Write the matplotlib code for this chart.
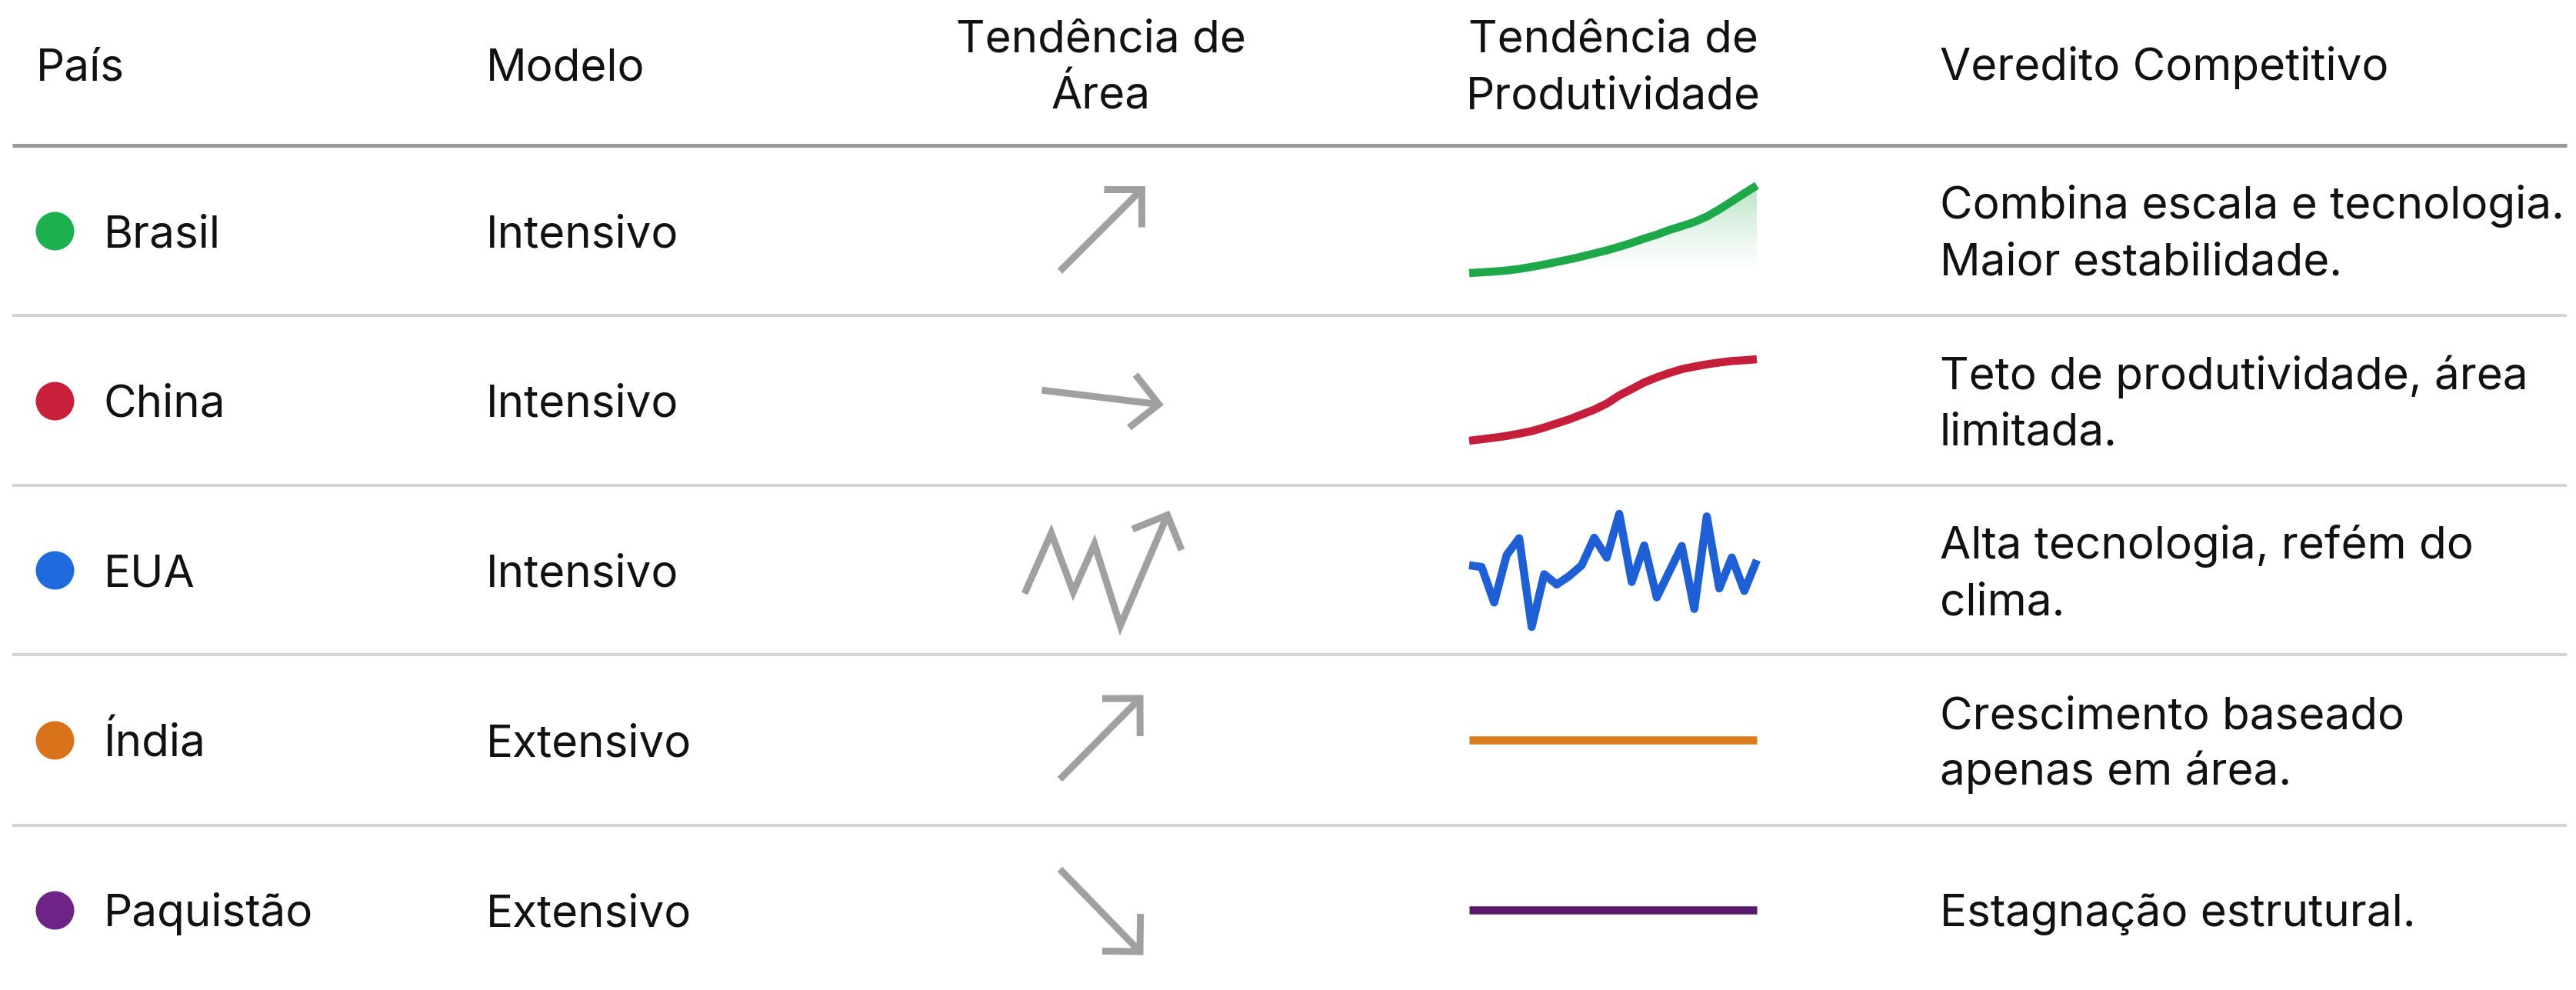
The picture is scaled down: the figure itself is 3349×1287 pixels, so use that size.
import numpy as np
import matplotlib
matplotlib.use("Agg")
import matplotlib.pyplot as plt
from matplotlib.colors import to_rgb

plt.rcParams['font.family'] = ['Inter', 'DejaVu Sans']

# ---------------- data ----------------
headers = ["País", "Modelo", "Tendência de\nÁrea", "Tendência de\nProdutividade", "Veredito Competitivo"]
countries = ["Brasil", "China", "EUA", "Índia", "Paquistão"]
models = ["Intensivo", "Intensivo", "Intensivo", "Extensivo", "Extensivo"]
verdicts = ["Combina escala e tecnologia.\nMaior estabilidade.",
            "Teto de produtividade, área\nlimitada.",
            "Alta tecnologia, refém do\nclima.",
            "Crescimento baseado\napenas em área.",
            "Estagnação estrutural."]
dot_colors = ["#1DB04F", "#C8203B", "#1F6BDE", "#D9731B", "#6E2389"]
line_colors = ["#1FA84A", "#C41E3A", "#1F5FD6", "#DC7A1E", "#5A1A6B"]

years = list(range(2000, 2024))
# productivity index (read from the sparklines)
prod_brasil = [0.0, 0.3, 0.6, 1.0, 1.6, 2.4, 3.3, 4.3, 5.3, 6.4, 7.6, 8.8,
               10.2, 11.7, 13.4, 14.9, 16.7, 18.2, 19.8, 21.9, 24.7, 27.8, 30.9, 34.0]
prod_china = [0.0, 0.6, 1.2, 1.9, 2.8, 3.8, 5.2, 6.8, 8.4, 10.3, 12.2, 14.6,
              17.8, 20.3, 22.9, 24.9, 26.6, 28.1, 29.1, 30.0, 30.7, 31.3, 31.6, 32.0]
prod_eua = [24.5, 23.8, 10.0, 28.5, 35.0, 0.5, 21.0, 17.0, 20.3, 24.5, 35.2, 27.5,
            44.5, 18.0, 32.2, 12.0, 22.0, 32.0, 7.5, 43.5, 15.5, 27.5, 14.5, 26.5]
prod_india = [10.0, 10.0, 10.0, 10.0, 10.0, 10.0, 10.0, 10.0, 10.0, 10.0, 10.0, 10.0,
              10.0, 10.0, 10.0, 10.0, 10.0, 10.0, 10.0, 10.0, 10.0, 10.0, 10.0, 10.0]
prod_paquistao = [5.0, 5.0, 5.0, 5.0, 5.0, 5.0, 5.0, 5.0, 5.0, 5.0, 5.0, 5.0,
                  5.0, 5.0, 5.0, 5.0, 5.0, 5.0, 5.0, 5.0, 5.0, 5.0, 5.0, 5.0]
productivity = [prod_brasil, prod_china, prod_eua, prod_india, prod_paquistao]
prod_fill = [True, False, False, False, False]

# area-trend icons (relative path of each trend arrow)
area_trend_x = [[-0.52, 0.52], [-0.75, 0.74],
                [-0.97, -0.63, -0.35, -0.08, 0.25, 0.85],
                [-0.52, 0.50], [-0.52, 0.50]]
area_trend_y = [[-0.52, 0.52], [0.13, -0.05],
                [-0.30, 0.47, -0.28, 0.33, -0.71, 0.70],
                [-0.50, 0.53], [0.52, -0.53]]

# ---------------- layout (pixels) ----------------
W, H = 3349, 1287
DPI = 100
fig = plt.figure(figsize=(W / DPI, H / DPI), dpi=DPI)
base = fig.add_axes([0, 0, 1, 1])
base.set_xlim(0, W)
base.set_ylim(H, 0)
base.axis("off")

def px2pt(p):
    return p * 72.0 / DPI

def fbox(x0, ytop, x1, ybot):
    return [x0 / W, 1 - ybot / H, (x1 - x0) / W, (ybot - ytop) / H]

TXT = "#111111"
FS = 42
CAP = 21.5          # half cap height in px
LINE_GAP = 73       # distance between text lines in px

row_c = [299.5, 520.5, 741, 962, 1183]
row_lines = [410, 631, 851, 1073]
header_line = 189
header_c = 83

col_dot = 71
col_name = 135
col_model = 632
col_area = 1431
spark_x0, spark_x1 = 1910, 2284
col_prod = (spark_x0 + spark_x1) / 2
col_verdict = 2522

def draw_lines(x, yc, s, ha="left"):
    lines = s.split("\n")
    n = len(lines)
    for i, ln in enumerate(lines):
        yline = yc + (i - (n - 1) / 2) * LINE_GAP
        base.text(x, yline + CAP, ln, fontsize=FS, color=TXT, ha=ha, va="baseline")

# header
draw_lines(47, header_c, headers[0])
draw_lines(col_model, header_c, headers[1])
draw_lines(col_area, header_c, headers[2], ha="center")
draw_lines(col_prod, header_c, headers[3], ha="center")
draw_lines(col_verdict, header_c, headers[4])

# rules
base.plot([16, 3337], [header_line, header_line], color="#999999", lw=px2pt(5),
          solid_capstyle="butt")
for y in row_lines:
    base.plot([16, 3337], [y, y], color="#D3D3D3", lw=px2pt(4),
              solid_capstyle="butt")

GRAY = "#A0A0A0"
UNIT = 102.0   # px per icon unit
HALF = 130.0   # half-size of icon cell in px
HEAD = 0.48    # arrowhead arm length (units)
HEAD_ANG = np.deg2rad(45)

for i, yc in enumerate(row_c):
    # dot + texts
    base.scatter([col_dot], [yc], s=px2pt(50) ** 2, color=dot_colors[i], lw=0, zorder=3)
    draw_lines(col_name, yc, countries[i])
    draw_lines(col_model, yc, models[i])
    draw_lines(col_verdict, yc, verdicts[i])

    # area trend arrow
    aax = fig.add_axes(fbox(col_area - HALF, yc - HALF, col_area + HALF, yc + HALF))
    aax.set_xlim(-HALF / UNIT, HALF / UNIT)
    aax.set_ylim(-HALF / UNIT, HALF / UNIT)
    aax.axis("off")
    xs, ys = area_trend_x[i], area_trend_y[i]
    lw_a = px2pt(9)
    aax.plot(xs, ys, color=GRAY, lw=lw_a, solid_capstyle="butt",
             solid_joinstyle="miter", clip_on=False)
    th = np.arctan2(ys[-1] - ys[-2], xs[-1] - xs[-2])
    tipx, tipy = xs[-1], ys[-1]
    a1 = (tipx - HEAD * np.cos(th + HEAD_ANG), tipy - HEAD * np.sin(th + HEAD_ANG))
    a2 = (tipx - HEAD * np.cos(th - HEAD_ANG), tipy - HEAD * np.sin(th - HEAD_ANG))
    aax.plot([a1[0], tipx, a2[0]], [a1[1], tipy, a2[1]], color=GRAY, lw=lw_a,
             solid_capstyle="butt", solid_joinstyle="miter", clip_on=False)

# sparkline vertical extents (px) for min and max values
spark_extent = [(355, 241), (573, 467), (815, 668), None, None]

for i, yc in enumerate(row_c):
    vals = np.array(productivity[i], dtype=float)
    x = np.arange(len(vals))
    vmin, vmax = vals.min(), vals.max()
    if vmax > vmin:
        ybot, ytop = spark_extent[i]
        ylim = (vmin, vmax)
    else:
        ybot, ytop = yc + 50, yc - 50
        ylim = (vmin - 1, vmax + 1)
    sax = fig.add_axes(fbox(spark_x0, ytop, spark_x1, ybot))
    sax.axis("off")
    if prod_fill[i]:
        poly = sax.fill_between(x, vals, vmin, color="none", lw=0)
        n = 256
        rgba = np.zeros((n, 1, 4))
        rgba[..., :3] = to_rgb(line_colors[i])
        rgba[:, 0, 3] = np.linspace(0.0, 1.0, n) ** 1.3 * 0.32
        im = sax.imshow(rgba, extent=[x[0], x[-1], vmin, vmax], origin="lower",
                        aspect="auto", zorder=1, interpolation="bilinear")
        im.set_clip_path(poly.get_paths()[0], transform=sax.transData)
    sax.plot(x, vals, color=line_colors[i], lw=px2pt(10.5), solid_capstyle="butt",
             solid_joinstyle="round", clip_on=False, zorder=2)
    sax.set_xlim(x[0], x[-1])
    sax.set_ylim(*ylim)

fig.savefig("out.png", dpi=DPI, facecolor="white")
